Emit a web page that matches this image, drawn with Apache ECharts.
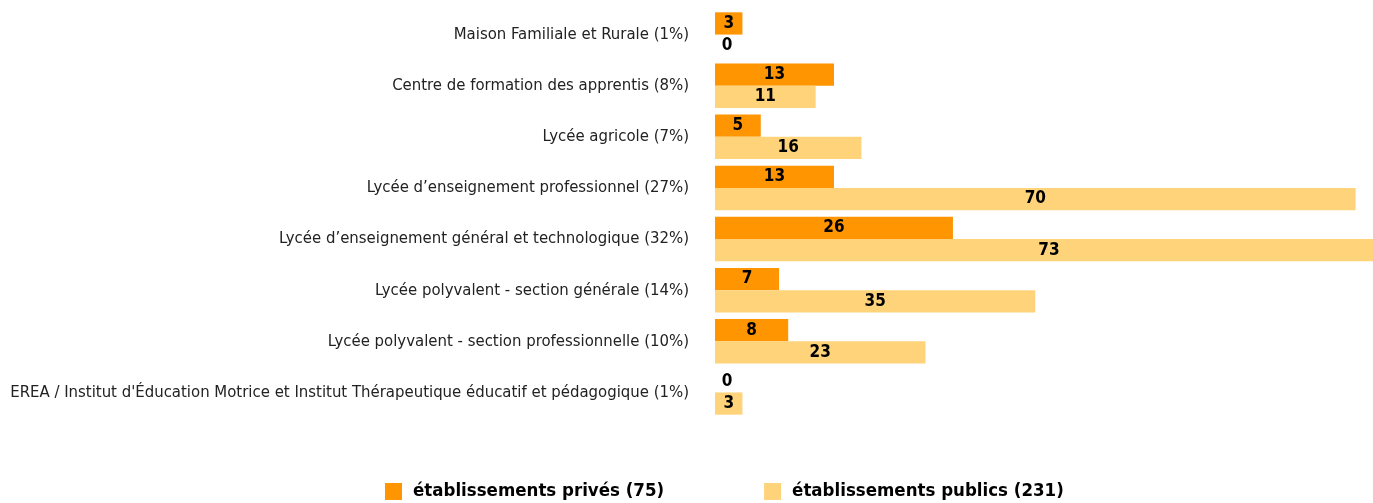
<!DOCTYPE html>
<html>
<head>
<meta charset="utf-8">
<script src="https://cdn.jsdelivr.net/npm/echarts@6/dist/echarts.min.js"></script>
<style>
html, body { margin: 0; padding: 0; background: #fff; }
#chart { width: 1373px; height: 503px; }
</style>
</head>
<body>
<div id="chart"></div>
<script>
var categories = [
  "Maison Familiale et Rurale (1%)",
  "Centre de formation des apprentis (8%)",
  "Lycée agricole (7%)",
  "Lycée d’enseignement professionnel (27%)",
  "Lycée d’enseignement général et technologique (32%)",
  "Lycée polyvalent - section générale (14%)",
  "Lycée polyvalent - section professionnelle (10%)",
  "EREA / Institut d'Éducation Motrice et Institut Thérapeutique éducatif et pédagogique (1%)"
];
var prives = [3, 13, 5, 13, 26, 7, 8, 0];
var publics = [0, 11, 16, 70, 73, 35, 23, 3];
var seriesNames = ["établissements privés (75)", "établissements publics (231)"];

var font = '"Liberation Sans Narrow", "DejaVu Sans Condensed", sans-serif';

// les zéros n'ont pas de barre : on décale un peu l'étiquette
function toItems(arr) {
  return arr.map(function (v) {
    if (v === 0) {
      return { value: v, label: { offset: [12, 0] } };
    }
    if (v === 73) {
      // la barre déborde du cadre, l'étiquette reste centrée sur la barre entière
      return { value: v, label: { offset: [5, 0] } };
    }
    return v;
  });
}

var chart = echarts.init(document.getElementById("chart"));
chart.setOption({
  animation: false,
  grid: { left: 715, top: 9, right: 0, height: 409, containLabel: false },
  legend: {
    top: 477,
    left: 380,
    itemWidth: 17,
    itemHeight: 17,
    itemGap: 100,
    icon: "rect",
    textStyle: { fontFamily: font, fontWeight: "bold", fontSize: 18.5, color: "#000", padding: [0, 0, 0, 6] },
    data: seriesNames
  },
  xAxis: {
    type: "value",
    min: 0,
    max: 71.9,
    show: false
  },
  yAxis: {
    type: "category",
    inverse: true,
    data: categories,
    axisLine: { show: false },
    axisTick: { show: false },
    axisLabel: { margin: 26, fontFamily: font, fontSize: 16.6, color: "#222" }
  },
  series: [
    {
      name: seriesNames[0],
      type: "bar",
      barGap: "0%",
      barCategoryGap: "13%",
      itemStyle: { color: "#ff9500" },
      label: { show: true, position: "inside", color: "#000", fontFamily: font, fontWeight: "bold", fontSize: 17 },
      data: toItems(prives)
    },
    {
      name: seriesNames[1],
      type: "bar",
      itemStyle: { color: "#fed37a" },
      label: { show: true, position: "inside", color: "#000", fontFamily: font, fontWeight: "bold", fontSize: 17 },
      data: toItems(publics)
    }
  ]
});
</script>
</body>
</html>
